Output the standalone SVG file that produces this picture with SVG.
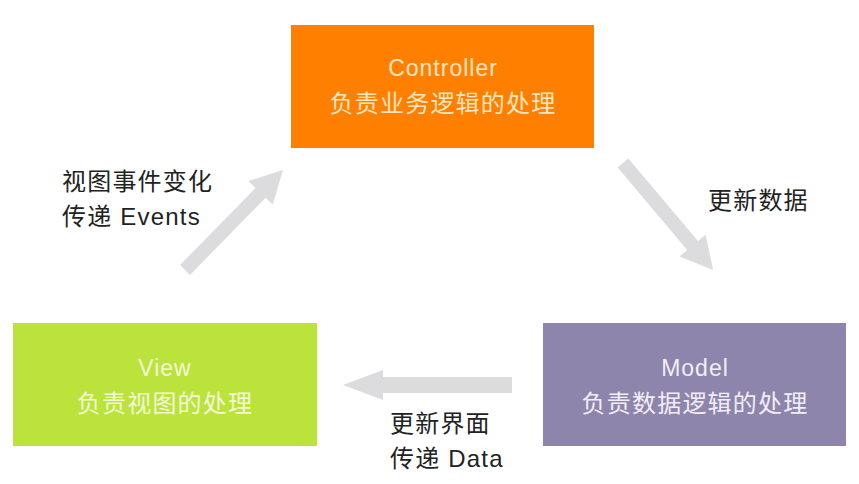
<svg xmlns="http://www.w3.org/2000/svg" width="859" height="484" viewBox="0 0 859 484">
<style>
.t{font-family:"Liberation Sans","Noto Sans CJK SC",sans-serif;font-size:24px;letter-spacing:1.2px}
.e{font-family:"Liberation Sans","Noto Sans CJK SC",sans-serif;font-size:23px;letter-spacing:1px}
.lbl{fill:#222222}
.arrow{fill:#DCDCDE}
</style>
<rect width="859" height="484" fill="#ffffff"/>
<g id="connectors">
<path class="arrow" transform="translate(185,270) rotate(-45.6)" d="M0,-7 L108,-7 L108,-17 L140,0 L108,17 L108,7 L0,7 Z"/>
<path class="arrow" transform="translate(623,163) rotate(49.9)" d="M0,-7 L108,-7 L108,-17 L140,0 L108,17 L108,7 L0,7 Z"/>
<path class="arrow" transform="translate(512,385) rotate(180)" d="M0,-8 L129,-8 L129,-15 L169,0 L129,15 L129,8 L0,8 Z"/>
<text class="t lbl" x="62" y="190">视图事件变化</text>
<text class="t lbl" x="62" y="225">传递 Events</text>
<text class="t lbl" x="708" y="209">更新数据</text>
<text class="t lbl" x="390" y="432">更新界面</text>
<text class="t lbl" x="390" y="467">传递 Data</text>
</g>
<g id="controller">
<rect x="291" y="25" width="303" height="123" fill="#FF8000"/>
<text class="e" x="443" y="76" text-anchor="middle" fill="#FFE6C2">Controller</text>
<text class="t" x="443" y="112" text-anchor="middle" fill="#FFE6C2">负责业务逻辑的处理</text>
</g>
<g id="view">
<rect x="13" y="323" width="304" height="123" fill="#BCE33C"/>
<text class="e" x="165" y="376" text-anchor="middle" fill="#F2FAD6">View</text>
<text class="t" x="165" y="412" text-anchor="middle" fill="#F2FAD6">负责视图的处理</text>
</g>
<g id="model">
<rect x="543" y="323" width="303" height="123" fill="#8E85AC"/>
<text class="e" x="695" y="376" text-anchor="middle" fill="#F2EEF8">Model</text>
<text class="t" x="695" y="412" text-anchor="middle" fill="#F2EEF8">负责数据逻辑的处理</text>
</g>
</svg>
